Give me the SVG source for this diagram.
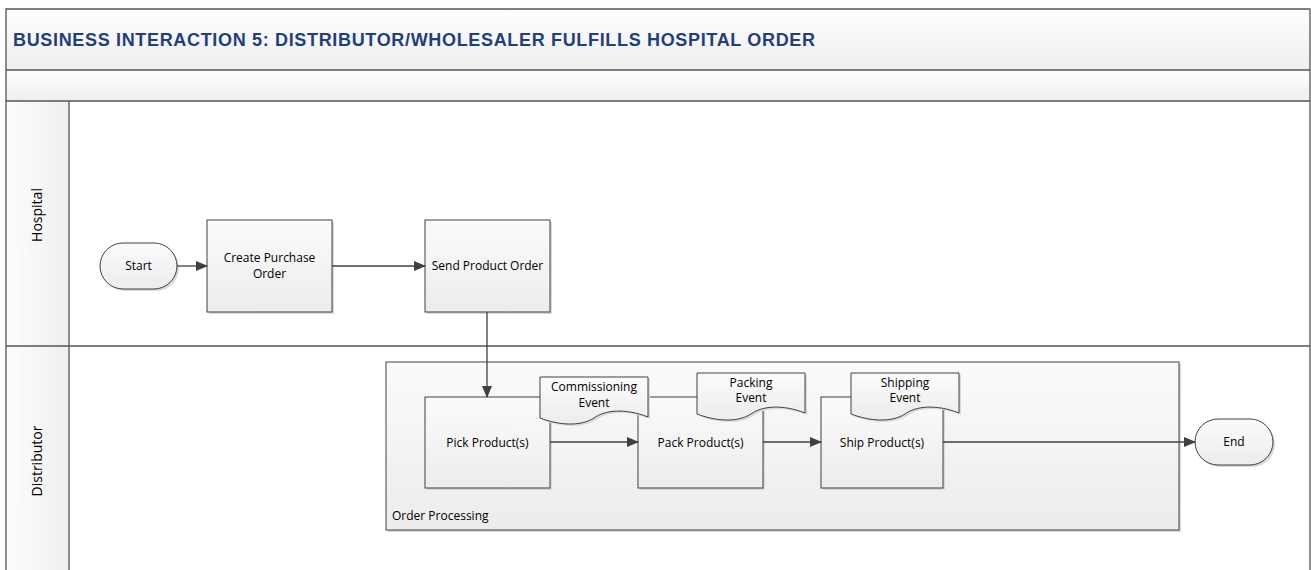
<svg xmlns="http://www.w3.org/2000/svg" width="1311" height="570" viewBox="0 0 1311 570">
<style>
.frame{stroke:#555;stroke-width:1.3;}
.box{fill:url(#g);stroke:#404040;stroke-width:1;}
.sh{fill:#d9d9d9;}
.t{font-family:"Open Sans",sans-serif;font-size:12px;fill:#000;text-anchor:middle;}
.lane{font-family:"Open Sans",sans-serif;font-size:14px;fill:#000;text-anchor:middle;}
.title{font-family:"Liberation Sans",Arial,sans-serif;font-size:18px;font-weight:bold;fill:#1f3f7f;}
.c{stroke:#404040;stroke-width:1.3;fill:none;marker-end:url(#a);}
</style>
<defs>
<linearGradient id="g" x1="0" y1="0" x2="0" y2="1"><stop offset="0" stop-color="#fbfbfb"/><stop offset="1" stop-color="#ececec"/></linearGradient>
<linearGradient id="gh" x1="0" y1="0" x2="0" y2="1"><stop offset="0" stop-color="#fdfdfd"/><stop offset="1" stop-color="#efefef"/></linearGradient>
<linearGradient id="gl" x1="0" y1="0" x2="1" y2="0"><stop offset="0" stop-color="#fdfdfd"/><stop offset="1" stop-color="#efefef"/></linearGradient>
<marker id="a" markerWidth="12" markerHeight="10" refX="11" refY="5" orient="auto" markerUnits="userSpaceOnUse"><path d="M0,0 L12,5 L0,10 Z" fill="#404040"/></marker>
<path id="doc" d="M0,0 H108 V40 C85,31 65,33 54,41 C40,50 18,48 0,41 Z"/>
</defs>
<rect width="1311" height="570" fill="#fff"/>
<g id="pool">
<rect x="6" y="9" width="1304" height="61" fill="url(#gh)"/>
<rect x="6" y="70" width="1304" height="31" fill="url(#gh)"/>
<rect x="6" y="101" width="63" height="245" fill="url(#gl)"/>
<rect x="6" y="346" width="63" height="230" fill="url(#gl)"/>
<path class="frame" fill="none" d="M6,576 V9 H1310 V576 M6,70 H1310 M6,101 H1310 M6,346 H1310 M69,101 V576"/>
<text class="title" x="13" y="46" textLength="802" lengthAdjust="spacing">BUSINESS INTERACTION 5: DISTRIBUTOR/WHOLESALER FULFILLS HOSPITAL ORDER</text>
<text class="lane" transform="translate(42,215) rotate(-90)">Hospital</text>
<text class="lane" transform="translate(42,461) rotate(-90)">Distributor</text>
</g>
<g id="order-processing">
<rect class="sh" x="388" y="364" width="793" height="168"/>
<rect class="box" x="386" y="362" width="793" height="168"/>
<text class="t" x="392" y="520" style="text-anchor:start">Order Processing</text>
</g>
<g id="start">
<rect class="sh" x="102" y="245" width="77" height="46" rx="23"/>
<rect class="box" x="100" y="243" width="77" height="46" rx="23"/>
<text class="t" x="138.5" y="270">Start</text>
</g>
<g id="create-po">
<rect class="sh" x="209" y="222" width="125" height="92"/>
<rect class="box" x="207" y="220" width="125" height="92"/>
<text class="t" x="269.5" y="262">Create Purchase</text>
<text class="t" x="269.5" y="278">Order</text>
</g>
<g id="send-order">
<rect class="sh" x="427" y="222" width="125" height="92"/>
<rect class="box" x="425" y="220" width="125" height="92"/>
<text class="t" x="487.5" y="270">Send Product Order</text>
</g>
<g id="pick">
<rect class="sh" x="427" y="399" width="125" height="91"/>
<rect class="box" x="425" y="397" width="125" height="91"/>
<text class="t" x="487.5" y="447">Pick Product(s)</text>
</g>
<g id="pack">
<rect class="sh" x="640" y="399" width="125" height="91"/>
<rect class="box" x="638" y="397" width="125" height="91"/>
<text class="t" x="700.5" y="447">Pack Product(s)</text>
</g>
<g id="ship">
<rect class="sh" x="823" y="399" width="122" height="91"/>
<rect class="box" x="821" y="397" width="122" height="91"/>
<text class="t" x="882" y="447">Ship Product(s)</text>
</g>
<g id="commissioning-event">
<use href="#doc" class="sh" x="542" y="379"/>
<use href="#doc" class="box" x="540" y="377"/>
<text class="t" x="594" y="391">Commissioning</text>
<text class="t" x="594" y="407">Event</text>
</g>
<g id="packing-event">
<use href="#doc" class="sh" x="699" y="375"/>
<use href="#doc" class="box" x="697" y="373"/>
<text class="t" x="751" y="387">Packing</text>
<text class="t" x="751" y="402">Event</text>
</g>
<g id="shipping-event">
<use href="#doc" class="sh" x="853" y="375"/>
<use href="#doc" class="box" x="851" y="373"/>
<text class="t" x="905" y="387">Shipping</text>
<text class="t" x="905" y="402">Event</text>
</g>
<g id="end">
<rect class="sh" x="1197" y="421" width="78" height="46" rx="23"/>
<rect class="box" x="1195" y="419" width="78" height="46" rx="23"/>
<text class="t" x="1234" y="446">End</text>
</g>
<g id="connectors">
<path class="c" d="M177,266 H207"/>
<path class="c" d="M332,266 H425"/>
<path class="c" d="M487,312 V397"/>
<path class="c" d="M550,442 H638"/>
<path class="c" d="M763,442 H821"/>
<path class="c" d="M943,442 H1195"/>
</g>
</svg>
